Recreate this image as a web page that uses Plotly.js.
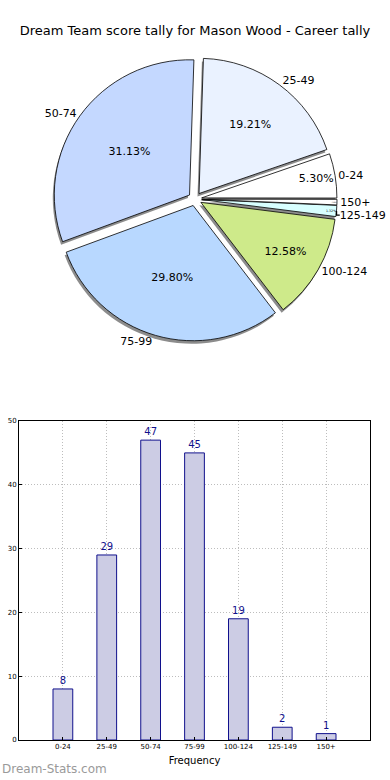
<!DOCTYPE html>
<html><head><meta charset="utf-8">
<script src="https://cdn.plot.ly/plotly-3.0.1.min.js"></script>
<style>html,body{margin:0;padding:0;background:#fff}#chart{width:390px;height:780px}</style>
</head><body><div id="chart"></div>
<script>
const categories = ['0-24','25-49','50-74','75-99','100-124','125-149','150+'];
const counts = [8, 29, 47, 45, 19, 2, 1];
const pieColors = ['#ffffff','#eaf2ff','#c4d8ff','#b8d8ff','#ceea8a','#d8ffff','#ffffff'];
const titleText = 'Dream Team score tally for Mason Wood - Career tally';
const xTitle = 'Frequency';
const watermark = 'Dream-Stats.com';

const F = 'DejaVu Sans, sans-serif';
const pull = categories.map(() => 0.05);
const pieDom = {x:[0,1], y:[(780-341)/780,(780-57)/780]};
const shadowDom = {x:[-3/390, 1-3/390], y:[pieDom.y[0]-3/780, pieDom.y[1]-3/780]};

const common = {type:'pie', labels:categories, values:counts, sort:false,
  direction:'counterclockwise', rotation:71, pull:pull, hoverinfo:'skip'};

const shadow = Object.assign({}, common, {domain:shadowDom,
  marker:{colors:categories.map(()=> 'rgba(0,0,0,0.45)'), line:{width:0}},
  textinfo:'none', showlegend:false});
const pieLabels = Object.assign({}, common, {domain:pieDom,
  marker:{colors:pieColors, line:{color:'#000', width:0.8}},
  textinfo:'label', textposition:'outside', outsidetextfont:{family:F,size:11,color:'#000'},
  showlegend:false});
const piePct = Object.assign({}, common, {domain:pieDom,
  marker:{colors:categories.map(()=> 'rgba(0,0,0,0)'), line:{width:0}},
  texttemplate:'%{percent:.2%}', textposition:'inside', insidetextorientation:'horizontal',
  insidetextfont:{family:F,size:11,color:'#000'}, showlegend:false});

const bars = {type:'bar', x:categories, y:counts, width:0.45, xaxis:'x', yaxis:'y',
  marker:{color:'#ccccE4', line:{color:'#10108c', width:1}},
  text:counts.map(String), textposition:'outside', cliponaxis:false,
  textfont:{family:F,size:10,color:'#10108c'}, hoverinfo:'skip', showlegend:false};

const layout = {
  width:390, height:780, margin:{l:0,r:0,t:0,b:0}, paper_bgcolor:'#fff', plot_bgcolor:'#fff',
  showlegend:false,
  title:{text:titleText, x:0.5, xanchor:'center', y:1-30/780, yanchor:'middle', font:{family:F,size:13,color:'#000'}},
  xaxis:{domain:[19/390,370/390], anchor:'y', type:'category', range:[-1,7],
    showgrid:true, gridcolor:'#bdbdbd', griddash:'1px,2px', gridwidth:1,
    showline:true, linecolor:'#000', linewidth:1, mirror:true,
    ticks:'inside', ticklen:3, tickcolor:'#000',
    tickfont:{family:F,size:7,color:'#000'},
    title:{text:xTitle, font:{family:F,size:10,color:'#000'}, standoff:6}},
  yaxis:{domain:[40/780,359/780], anchor:'x', range:[0,50], dtick:10,
    showgrid:true, gridcolor:'#bdbdbd', griddash:'1px,2px', gridwidth:1, zeroline:false,
    showline:true, linecolor:'#000', linewidth:1, mirror:true,
    ticks:'inside', ticklen:3, tickcolor:'#000',
    tickfont:{family:F,size:7,color:'#000'}},
  annotations:[{text:watermark, xref:'paper', yref:'paper', x:0, y:2/780, xanchor:'left', yanchor:'bottom',
    showarrow:false, font:{family:F,size:12,color:'#9a9a9a'}}]
};

Plotly.newPlot('chart', [shadow, pieLabels, piePct, bars], layout, {displayModeBar:false, staticPlot:true});
</script></body></html>
